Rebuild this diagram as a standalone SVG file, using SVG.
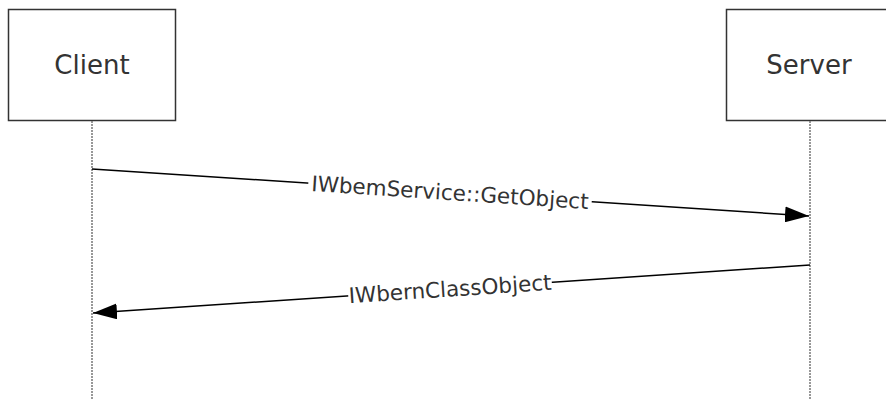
<svg xmlns="http://www.w3.org/2000/svg" width="886" height="400" viewBox="0 0 886 400">
<style>
.box{fill:#fff;stroke:#333;stroke-width:1.5}
.name{font-family:"DejaVu Sans",Verdana,sans-serif;font-size:26px;fill:#333;text-anchor:middle}
.life{stroke:#777;stroke-width:1.5;stroke-dasharray:2 1;fill:none}
.msg{stroke:#000;stroke-width:1.5;fill:none}
.lbl{font-family:"DejaVu Sans",Verdana,sans-serif;font-size:21.5px;fill:#333;text-anchor:middle;dominant-baseline:central}
</style>
<defs>
<marker id="ah" viewBox="0 0 24 16" refX="24" refY="8" markerWidth="24" markerHeight="16" markerUnits="userSpaceOnUse" orient="auto">
<path d="M0,0 L24,8 L0,16 Z" fill="#000"/>
</marker>
</defs>
<rect width="886" height="400" fill="#fff"/>
<g id="client">
<rect class="box" x="8.5" y="9.5" width="167" height="111"/>
<text class="name" x="92" y="74">Client</text>
</g>
<g id="server">
<rect class="box" x="726.5" y="9.5" width="167" height="111"/>
<text class="name" x="809" y="74">Server</text>
</g>
<g id="connectors">
<line class="life" x1="92" y1="121" x2="92" y2="400"/>
<line class="life" x1="810" y1="121" x2="810" y2="400"/>
<line class="msg" x1="92" y1="169" x2="809" y2="216" marker-end="url(#ah)"/>
<g transform="translate(450,192.5) rotate(3.75)">
<rect x="-142" y="-11" width="284" height="22" fill="#fff"/>
<text class="lbl" x="0" y="0">IWbemService::GetObject</text>
</g>
<line class="msg" x1="810" y1="265" x2="93" y2="313" marker-end="url(#ah)"/>
<g transform="translate(450,289) rotate(-3.8)">
<rect x="-102" y="-11" width="204" height="22" fill="#fff"/>
<text class="lbl" x="0" y="0">IWbernClassObject</text>
</g>
</g>
</svg>
